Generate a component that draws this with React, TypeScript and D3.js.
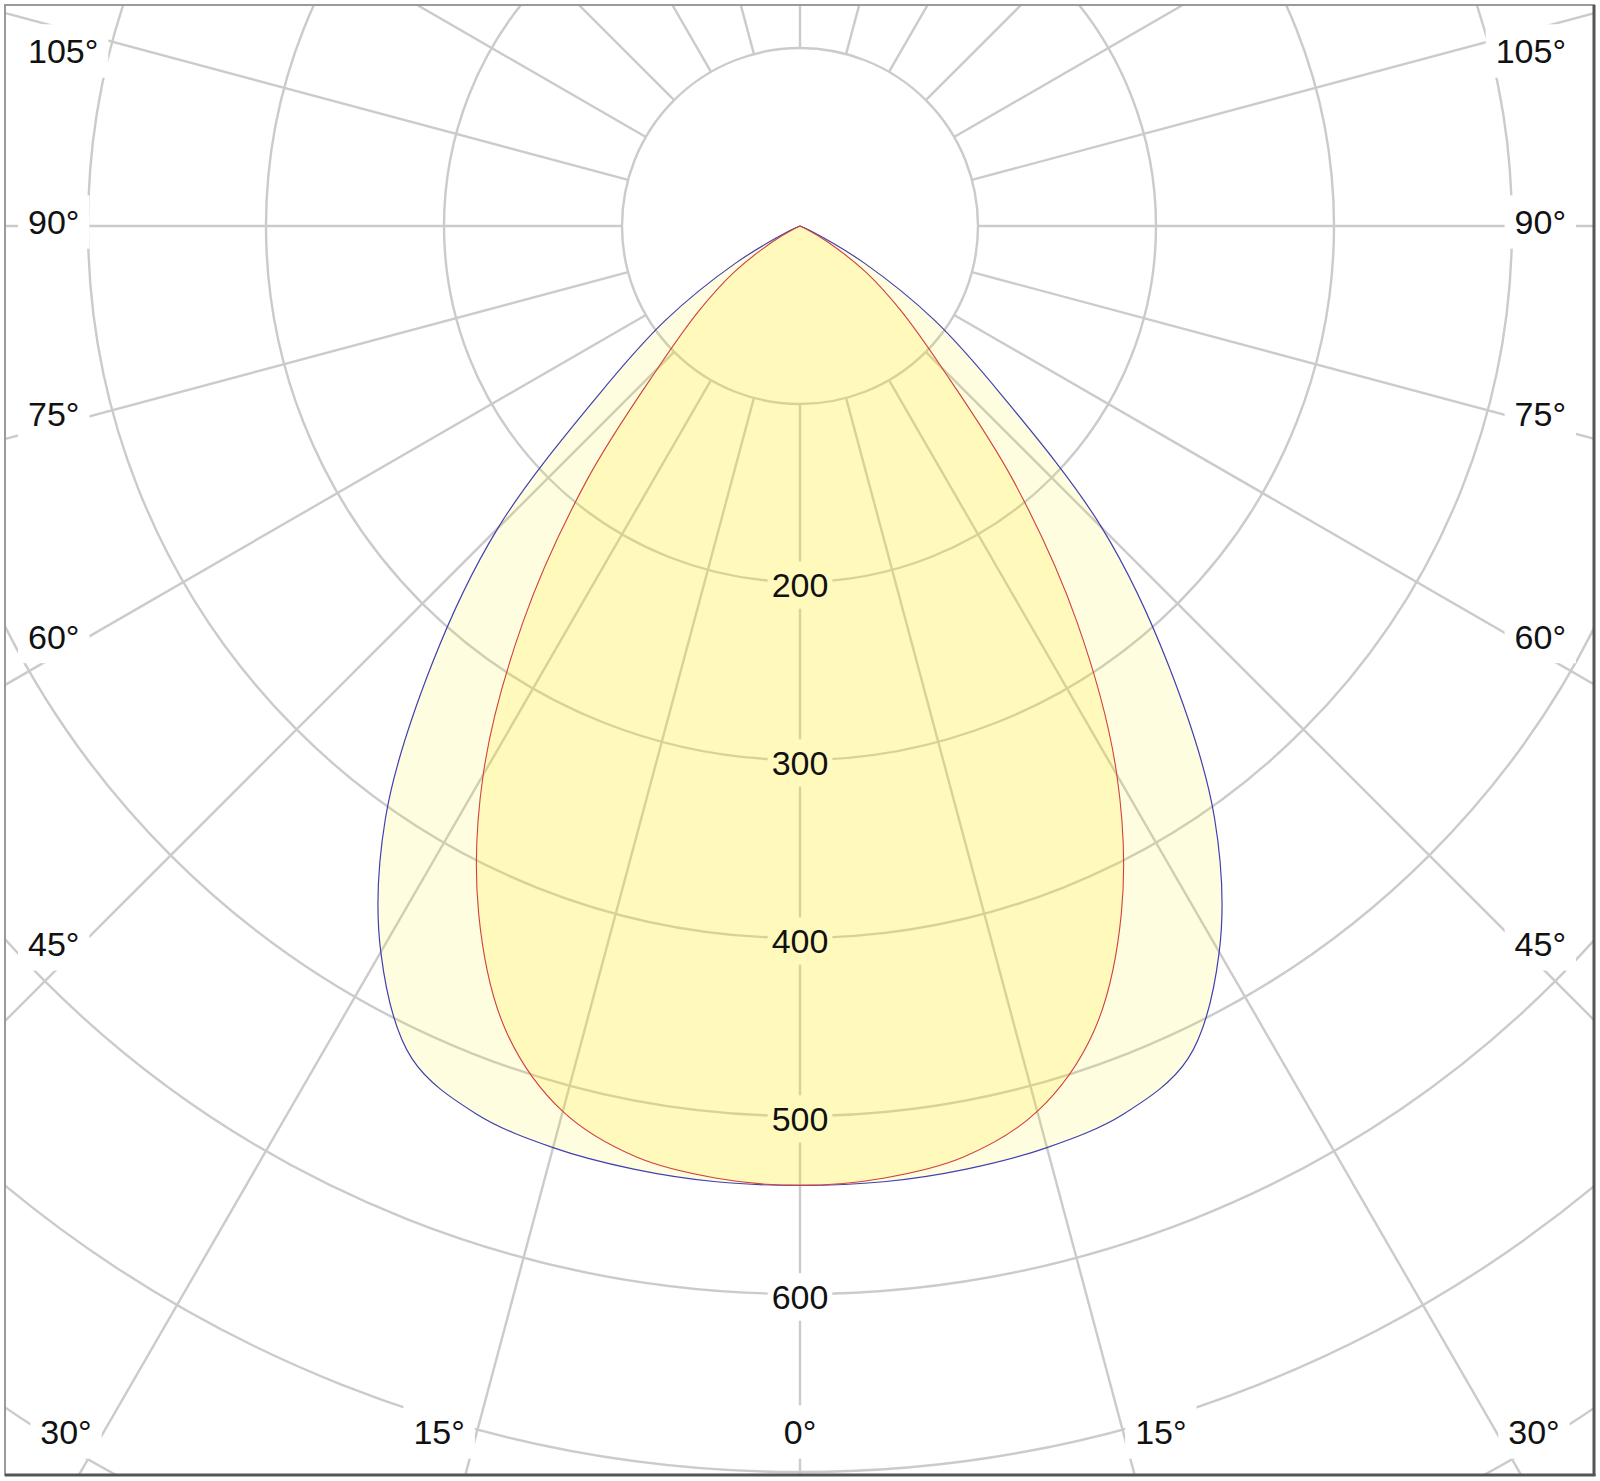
import React from "react";
import * as d3 from "d3";

// luminous intensity (cd/klm), half plane, symmetric
const angles = [0, 5, 10, 15, 20, 25, 30, 35, 40, 45, 50, 55, 60, 65, 70, 75, 80, 85, 90];
const planeC0 = [539, 539, 538, 536, 531, 516, 471, 406, 322, 240, 148, 92, 42, 8, 0, 0, 0, 0, 0];
const planeC90 = [539, 537, 531, 515, 482, 427, 356, 271, 186, 113, 74, 45, 18, 3, 0, 0, 0, 0, 0];

const ringValues = [100, 200, 300, 400, 500, 600, 700, 800];
const valueLabels = [200, 300, 400, 500, 600];
const bottomLabels = [-30, -15, 0, 15, 30];
const sideLabels = [45, 60, 75, 90, 105];

const W = 1600;
const H = 1481;
const CX = 800;
const CY = 226;
const FONT = 34;

const rad = (deg: number) => (deg * Math.PI) / 180;

export default function App() {
  const r = d3.scaleLinear().domain([0, 100]).range([0, 178]);

  // polar point, angle measured from straight down, positive to the right
  const pt = (deg: number, v: number): [number, number] => [
    CX + r(v) * Math.sin(rad(deg)),
    CY + r(v) * Math.cos(rad(deg)),
  ];

  const line = d3
    .lineRadial<[number, number]>()
    .angle((d) => Math.PI - rad(d[0]))
    .radius((d) => r(d[1]))
    .curve(d3.curveCatmullRom.alpha(0.5));

  const fullCurve = (vals: number[]) => {
    // keep only the first zero of the tail, the rest sit on the centre
    const last = vals.indexOf(0);
    const n = last < 0 ? vals.length : last + 1;
    const half = angles.slice(0, n).map((a, i) => [a, vals[i]] as [number, number]);
    const left = half.map(([a, v]) => [-a, v] as [number, number]).reverse();
    return line([...left, ...half.slice(1)]) + "Z";
  };

  const spokes = d3.range(0, 360, 15);

  const boxW = (txt: string) =>
    FONT * txt.split("").reduce((s, c) => s + (c === "°" ? 0.4 : 0.556), 0);

  type Lbl = { txt: string; x: number; y: number; anchor: "start" | "middle" | "end" };
  const angleLbls: Lbl[] = [];
  const yBottom = 1432;
  bottomLabels.forEach((a) => {
    const sx = CX + (yBottom - CY) * Math.tan(rad(a));
    const txt = `${Math.abs(a)}°`;
    if (a === 0) angleLbls.push({ txt, x: CX, y: yBottom, anchor: "middle" });
    else if (a < 0) angleLbls.push({ txt, x: sx - 12, y: yBottom, anchor: "end" });
    else angleLbls.push({ txt, x: sx + 12, y: yBottom, anchor: "start" });
  });
  sideLabels.forEach((a) => {
    const dx = CX - 52;
    const sy = CY + (dx * Math.cos(rad(a))) / Math.sin(rad(a)) - ((90 - a) * 0.58 + 4);
    const y = Math.max(51, sy);
    const txt = `${a}°`;
    angleLbls.push({ txt, x: 28, y, anchor: "start" });
    angleLbls.push({ txt, x: 1566, y, anchor: "end" });
  });

  const boxFor = (l: Lbl, padX: number, padY: number) => {
    const w = boxW(l.txt);
    const x0 = l.anchor === "start" ? l.x : l.anchor === "end" ? l.x - w : l.x - w / 2;
    return { x: x0 - padX, y: l.y - FONT * 0.55 - padY, w: w + 2 * padX, h: FONT * 1.1 + 2 * padY };
  };

  const valLbls: Lbl[] = valueLabels.map((v) => ({
    txt: String(v),
    x: CX,
    y: CY + r(v) + 3,
    anchor: "middle",
  }));

  return (
    <svg
      width={W}
      height={H}
      style={{ position: "absolute", left: 0, top: 0, background: "#fff" }}
      fontFamily="'Liberation Sans', Arial, sans-serif"
    >
      <defs>
        <clipPath id="frame">
          <rect x={5} y={5} width={1589} height={1470} />
        </clipPath>
      </defs>
      <rect width={W} height={H} fill="#fff" />
      <g clipPath="url(#frame)">
        <g fill="none" stroke="#cbcbcb" strokeWidth={2.4}>
          {ringValues.map((v) => (
            <circle key={v} cx={CX} cy={CY} r={r(v)} />
          ))}
          {spokes.map((a) => {
            const [x1, y1] = pt(a, 100);
            const [x2, y2] = pt(a, 1000);
            return <line key={a} x1={x1} y1={y1} x2={x2} y2={y2} />;
          })}
        </g>
        <g fill="#fff">
          {valLbls.map((l) => {
            const b = boxFor(l, 4, 5);
            return <rect key={l.txt} x={b.x} y={b.y} width={b.w} height={b.h} />;
          })}
          {angleLbls.map((l, i) => {
            const b = boxFor(l, 10, 8);
            return <rect key={i} x={b.x} y={b.y} width={b.w} height={b.h} />;
          })}
        </g>
        <g transform={`translate(${CX},${CY})`}>
          <path d={fullCurve(planeC0)} fill="rgba(255,240,0,0.12)" stroke="none" />
          <path d={fullCurve(planeC90)} fill="rgba(255,235,0,0.16)" stroke="none" />
          <path d={fullCurve(planeC0)} fill="none" stroke="#4040b0" strokeWidth={1.2} />
          <path d={fullCurve(planeC90)} fill="none" stroke="#d04040" strokeWidth={1.1} />
        </g>
      </g>
      <g fill="#111" fontSize={FONT}>
        {valLbls.map((l) => (
          <text key={l.txt} x={l.x} y={l.y} dy="0.36em" textAnchor={l.anchor}>
            {l.txt}
          </text>
        ))}
        {angleLbls.map((l, i) => (
          <text key={i} x={l.x} y={l.y} dy="0.36em" textAnchor={l.anchor}>
            {l.txt}
          </text>
        ))}
      </g>
      <rect x={5} y={5} width={1589} height={1470} fill="none" stroke="#9a9a9a" strokeWidth={2} />
      <line x1={1594} y1={5} x2={1594} y2={1476} stroke="#555" strokeWidth={3} />
      <line x1={5} y1={1475} x2={1595.5} y2={1475} stroke="#555" strokeWidth={3} />
    </svg>
  );
}
